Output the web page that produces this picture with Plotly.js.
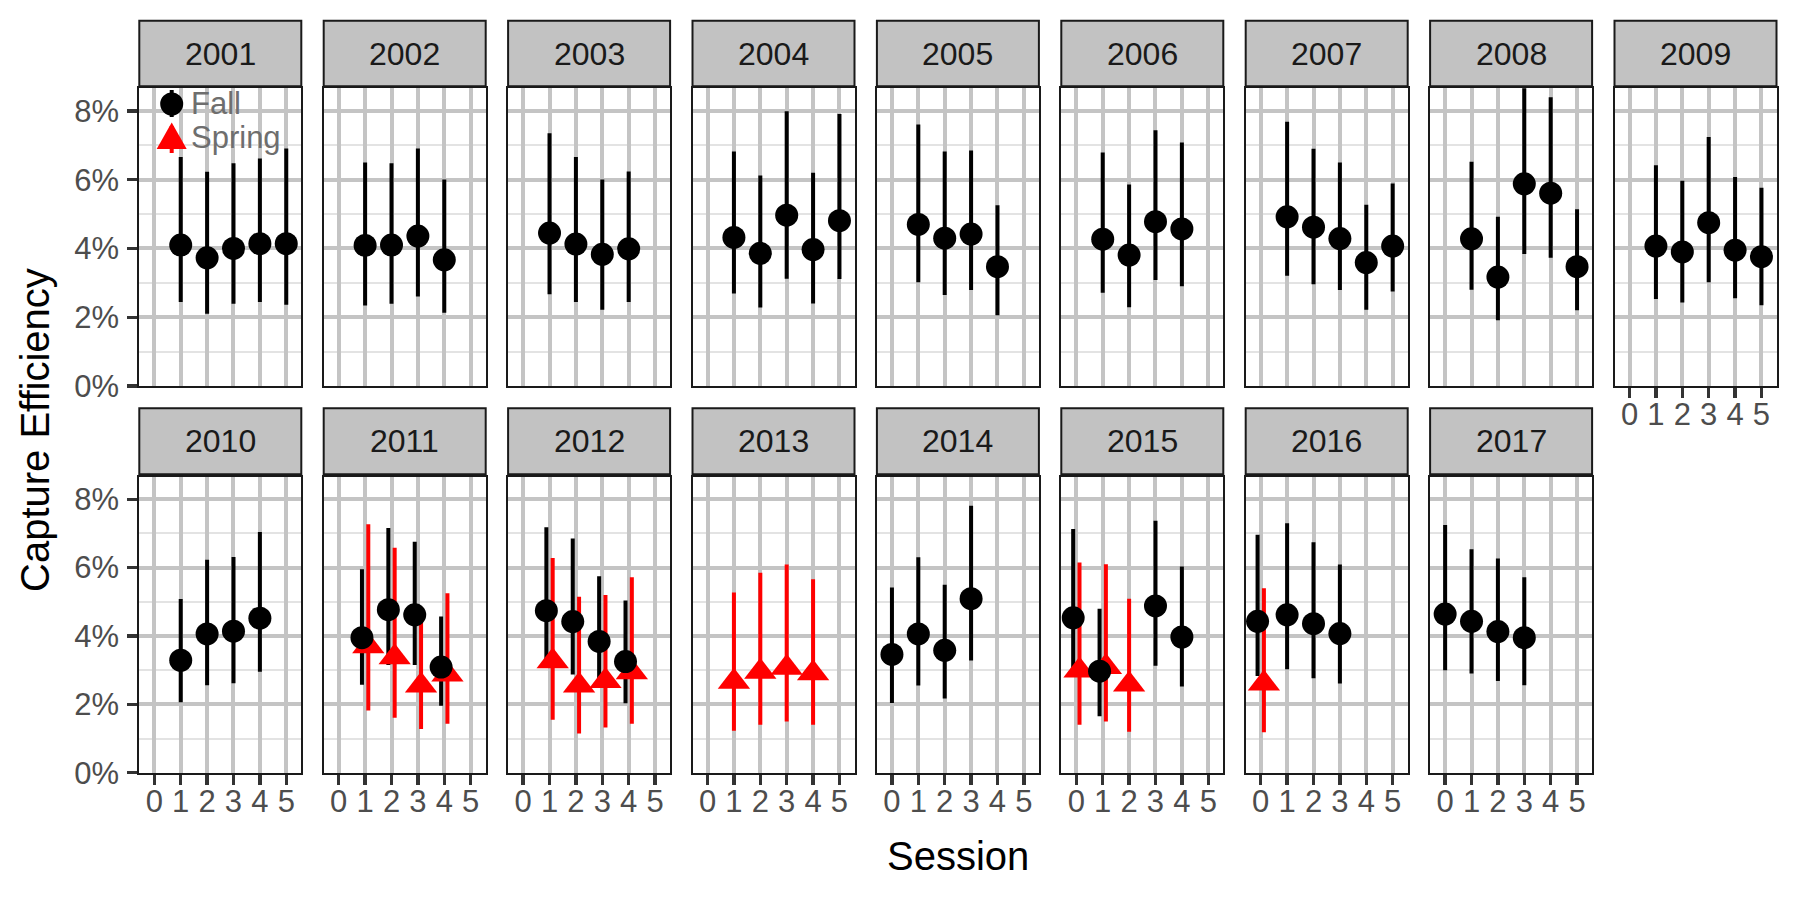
<!DOCTYPE html>
<html>
<head>
<meta charset="utf-8">
<script src="https://cdn.plot.ly/plotly-3.0.1.min.js"></script>
<style>
body { margin: 0; background: #fff; }
#plot { width: 1799px; height: 899px; }
</style>
</head>
<body>
<div id="plot"></div>
<script>
// one entry per facet (year); values in percent
var years = [2001, 2002, 2003, 2004, 2005, 2006, 2007, 2008, 2009,
             2010, 2011, 2012, 2013, 2014, 2015, 2016, 2017];

var fallSession = [
    [1, 2, 3, 4, 5], [1, 2, 3, 4], [1, 2, 3, 4], [1, 2, 3, 4, 5], [1, 2, 3, 4],
    [1, 2, 3, 4], [1, 2, 3, 4, 5], [1, 2, 3, 4, 5], [1, 2, 3, 4, 5],
    [1, 2, 3, 4], [1, 2, 3, 4], [1, 2, 3, 4], [], [0, 1, 2, 3],
    [0, 1, 3, 4], [0, 1, 2, 3], [0, 1, 2, 3]
];
var fallEst = [
    [4.10, 3.73, 4.00, 4.14, 4.14], [4.09, 4.10, 4.36, 3.67], [4.45, 4.13, 3.83, 3.99],
    [4.32, 3.86, 4.97, 3.97, 4.81], [4.70, 4.30, 4.42, 3.47], [4.27, 3.81, 4.78, 4.57],
    [4.92, 4.62, 4.29, 3.59, 4.07], [4.28, 3.17, 5.88, 5.61, 3.47], [4.07, 3.90, 4.75, 3.95, 3.76],
    [3.29, 4.06, 4.14, 4.52], [3.95, 4.77, 4.62, 3.09], [4.74, 4.42, 3.84, 3.25], [],
    [3.46, 4.06, 3.58, 5.09], [4.53, 2.97, 4.88, 3.97], [4.43, 4.62, 4.36, 4.07],
    [4.64, 4.43, 4.13, 3.95]
];
var fallLow = [
    [2.44, 2.10, 2.39, 2.44, 2.36], [2.34, 2.39, 2.60, 2.13], [2.67, 2.44, 2.22, 2.44],
    [2.69, 2.28, 3.12, 2.40, 3.11], [3.02, 2.65, 2.79, 2.06], [2.71, 2.29, 3.08, 2.90],
    [3.21, 2.96, 2.79, 2.22, 2.75], [2.80, 1.91, 3.84, 3.73, 2.20], [2.53, 2.43, 3.02, 2.55, 2.35],
    [2.06, 2.56, 2.62, 2.95], [2.57, 3.15, 3.15, 1.96], [3.10, 2.87, 2.55, 2.03], [],
    [2.04, 2.55, 2.17, 3.28], [2.92, 1.65, 3.13, 2.52], [2.83, 3.03, 2.76, 2.61],
    [3.00, 2.90, 2.68, 2.56]
];
var fallHigh = [
    [6.66, 6.23, 6.48, 6.62, 6.91], [6.50, 6.48, 6.91, 6.01], [7.35, 6.66, 6.01, 6.24],
    [6.82, 6.12, 7.99, 6.20, 7.91], [7.61, 6.82, 6.85, 5.26], [6.79, 5.86, 7.44, 7.08],
    [7.69, 6.90, 6.50, 5.27, 5.89], [6.52, 4.92, 8.90, 8.40, 5.14], [6.42, 5.97, 7.24, 6.08, 5.77],
    [5.08, 6.23, 6.31, 7.04], [5.95, 7.16, 6.76, 4.57], [7.18, 6.85, 5.75, 5.04], [],
    [5.42, 6.30, 5.50, 7.81], [7.13, 4.80, 7.37, 6.03], [6.96, 7.30, 6.74, 6.09],
    [7.25, 6.54, 6.27, 5.72]
];

var springSession = [
    [], [], [], [], [], [], [], [], [],
    [], [1, 2, 3, 4], [1, 2, 3, 4], [1, 2, 3, 4], [], [0, 1, 2], [0], []
];
var springEst = [
    [], [], [], [], [], [], [], [], [],
    [], [3.70, 3.38, 2.55, 2.87], [3.26, 2.55, 2.68, 2.94], [2.66, 2.95, 3.07, 2.91], [],
    [2.99, 3.09, 2.58], [2.61], []
];
var springLow = [
    [], [], [], [], [], [], [], [], [],
    [], [1.82, 1.61, 1.28, 1.43], [1.55, 1.15, 1.32, 1.43], [1.23, 1.40, 1.50, 1.40], [],
    [1.40, 1.50, 1.20], [1.18], []
];
var springHigh = [
    [], [], [], [], [], [], [], [], [],
    [], [7.27, 6.58, 4.85, 5.25], [6.28, 5.15, 5.20, 5.72], [5.27, 5.85, 6.09, 5.66], [],
    [6.15, 6.10, 5.09], [5.40], []
];

var sessionTicks = [0, 1, 2, 3, 4, 5];
var effTicks = [0, 2, 4, 6, 8];

var W = 1799, H = 899;
function px(x) { return x / W; }
function py(y) { return 1 - y / H; }

var FONT = 'Liberation Sans, Arial, sans-serif';
var colLeft = 139.3, colWidth = 162, colStep = 184.4;
var rowTop = [88.3, 476.7], rowBottom = [386, 772.7];
var stripTop = [20.7, 408.3], stripBottom = [86.3, 474.3];
var dodge = 0.12;
var ncol = 9;

var traces = [];
var shapes = [];
var annotations = [];
var layout = {
    width: W,
    height: H,
    margin: { l: 0, r: 0, t: 0, b: 0 },
    paper_bgcolor: '#fff',
    plot_bgcolor: '#fff',
    showlegend: false,
    hovermode: false,
    font: { family: FONT, color: '#4D4D4D' }
};

function errBar(est, lo, hi, color) {
    return {
        type: 'data',
        symmetric: false,
        array: hi.map(function (v, k) { return v - est[k]; }),
        arrayminus: lo.map(function (v, k) { return est[k] - v; }),
        color: color,
        thickness: 4,
        width: 0
    };
}

var lineTraces = [], pointTraces = [];

for (var i = 0; i < years.length; i++) {
    var row = Math.floor(i / ncol);
    var col = i % ncol;
    var n = i + 1;
    var xName = n === 1 ? 'xaxis' : 'xaxis' + n;
    var yName = n === 1 ? 'yaxis' : 'yaxis' + n;
    var xRef = n === 1 ? 'x' : 'x' + n;
    var yRef = n === 1 ? 'y' : 'y' + n;

    var left = colLeft + col * colStep;
    var right = left + colWidth;
    // x labels where no panel sits below
    var showX = row === 1 || (i + ncol >= years.length);
    var showY = col === 0;

    layout[xName] = {
        domain: [px(left), px(right)],
        anchor: yRef,
        range: [-0.57, 5.57],
        tickmode: 'array',
        tickvals: sessionTicks,
        ticktext: sessionTicks.map(String),
        showgrid: true,
        gridcolor: '#C4C4C4',
        gridwidth: 4,
        zeroline: false,
        showline: true,
        mirror: true,
        linecolor: '#1A1A1A',
        linewidth: 2,
        ticks: showX ? 'outside' : '',
        ticklen: 10,
        tickwidth: 3.5,
        tickcolor: '#333333',
        showticklabels: showX,
        ticklabelstandoff: -10,
        tickfont: { family: FONT, size: 31, color: '#4D4D4D' },
        fixedrange: true
    };
    layout[yName] = {
        domain: [py(rowBottom[row]), py(rowTop[row])],
        anchor: xRef,
        range: [0, 8.66],
        tickmode: 'array',
        tickvals: effTicks,
        ticktext: effTicks.map(function (v) { return v + '%'; }),
        showgrid: true,
        gridcolor: '#C4C4C4',
        gridwidth: 4,
        minor: { tickmode: 'array', tickvals: [1, 3, 5, 7], showgrid: true, gridcolor: '#E3E3E3', gridwidth: 2, ticks: '' },
        zeroline: false,
        showline: true,
        mirror: true,
        linecolor: '#1A1A1A',
        linewidth: 2,
        ticks: showY ? 'outside' : '',
        ticklen: 10,
        tickwidth: 3.5,
        tickcolor: '#333333',
        showticklabels: showY,
        ticklabelstandoff: 2,
        tickfont: { family: FONT, size: 31, color: '#4D4D4D' },
        fixedrange: true
    };

    // dodge sessions that have both seasons
    var fs = fallSession[i], ss = springSession[i];
    var fx = fs.map(function (s) { return ss.indexOf(s) >= 0 ? s - dodge : s; });
    var sx = ss.map(function (s) { return fs.indexOf(s) >= 0 ? s + dodge : s; });

    if (fs.length) {
        lineTraces.push({
            x: fx, y: fallEst[i], xaxis: xRef, yaxis: yRef, type: 'scatter', mode: 'markers',
            marker: { size: 1, opacity: 0 },
            error_y: errBar(fallEst[i], fallLow[i], fallHigh[i], '#000000')
        });
    }
    if (ss.length) {
        lineTraces.push({
            x: sx, y: springEst[i], xaxis: xRef, yaxis: yRef, type: 'scatter', mode: 'markers',
            marker: { size: 1, opacity: 0 },
            error_y: errBar(springEst[i], springLow[i], springHigh[i], '#FF0000')
        });
        pointTraces.push({
            x: sx, y: springEst[i], xaxis: xRef, yaxis: yRef, type: 'scatter', mode: 'markers',
            name: 'Spring',
            marker: { symbol: 'triangle-up', size: 28, color: '#FF0000' }
        });
    }
    if (fs.length) {
        pointTraces.push({
            x: fx, y: fallEst[i], xaxis: xRef, yaxis: yRef, type: 'scatter', mode: 'markers',
            name: 'Fall',
            marker: { symbol: 'circle', size: 23, color: '#000000' }
        });
    }

    // facet strip
    shapes.push({
        type: 'rect', xref: 'paper', yref: 'paper',
        x0: px(left), x1: px(right), y0: py(stripBottom[row]), y1: py(stripTop[row]),
        fillcolor: '#C2C2C2', line: { color: '#1A1A1A', width: 2 }, layer: 'above'
    });
    annotations.push({
        xref: 'paper', yref: 'paper',
        x: px((left + right) / 2), y: py((stripTop[row] + stripBottom[row]) / 2),
        text: String(years[i]), showarrow: false,
        xanchor: 'center', yanchor: 'middle',
        font: { family: FONT, size: 32, color: '#1A1A1A' }
    });
}

traces = lineTraces.concat(pointTraces);

// legend drawn inside the first panel
var legX = 171.7;
shapes.push({ type: 'line', xref: 'paper', yref: 'paper', x0: px(legX), x1: px(legX), y0: py(90), y1: py(117), line: { color: '#000', width: 4 }, layer: 'above' });
shapes.push({ type: 'circle', xref: 'paper', yref: 'paper', x0: px(legX - 11.5), x1: px(legX + 11.5), y0: py(115.5), y1: py(92.5), fillcolor: '#000', line: { width: 0 }, layer: 'above' });
shapes.push({ type: 'line', xref: 'paper', yref: 'paper', x0: px(legX), x1: px(legX), y0: py(126), y1: py(153), line: { color: '#FF0000', width: 4 }, layer: 'above' });
shapes.push({
    type: 'path', xref: 'paper', yref: 'paper',
    path: 'M' + px(legX) + ',' + py(122.5) + ' L' + px(legX + 15) + ',' + py(149) + ' L' + px(legX - 15) + ',' + py(149) + ' Z',
    fillcolor: '#FF0000', line: { width: 0 }, layer: 'above'
});
annotations.push({ xref: 'paper', yref: 'paper', x: px(189), y: py(104), text: 'Fall', showarrow: false, xanchor: 'left', yanchor: 'middle', font: { family: FONT, size: 31, color: '#6E6E6E' } });
annotations.push({ xref: 'paper', yref: 'paper', x: px(189), y: py(138), text: 'Spring', showarrow: false, xanchor: 'left', yanchor: 'middle', font: { family: FONT, size: 31, color: '#6E6E6E' } });

// axis titles
annotations.push({ xref: 'paper', yref: 'paper', x: px(958), y: py(856), text: 'Session', showarrow: false, xanchor: 'center', yanchor: 'middle', font: { family: FONT, size: 40, color: '#000' } });
annotations.push({ xref: 'paper', yref: 'paper', x: px(35), y: py(430), text: 'Capture Efficiency', textangle: -90, showarrow: false, xanchor: 'center', yanchor: 'middle', font: { family: FONT, size: 40, color: '#000' } });

layout.shapes = shapes;
layout.annotations = annotations;

var plotElement = document.getElementById('plot');
if (plotElement) {
    Plotly.newPlot('plot', traces, layout, { displayModeBar: false, staticPlot: true });
} else {
    console.error("No DOM element with id 'plot' exists on the page.");
}
</script>
</body>
</html>
